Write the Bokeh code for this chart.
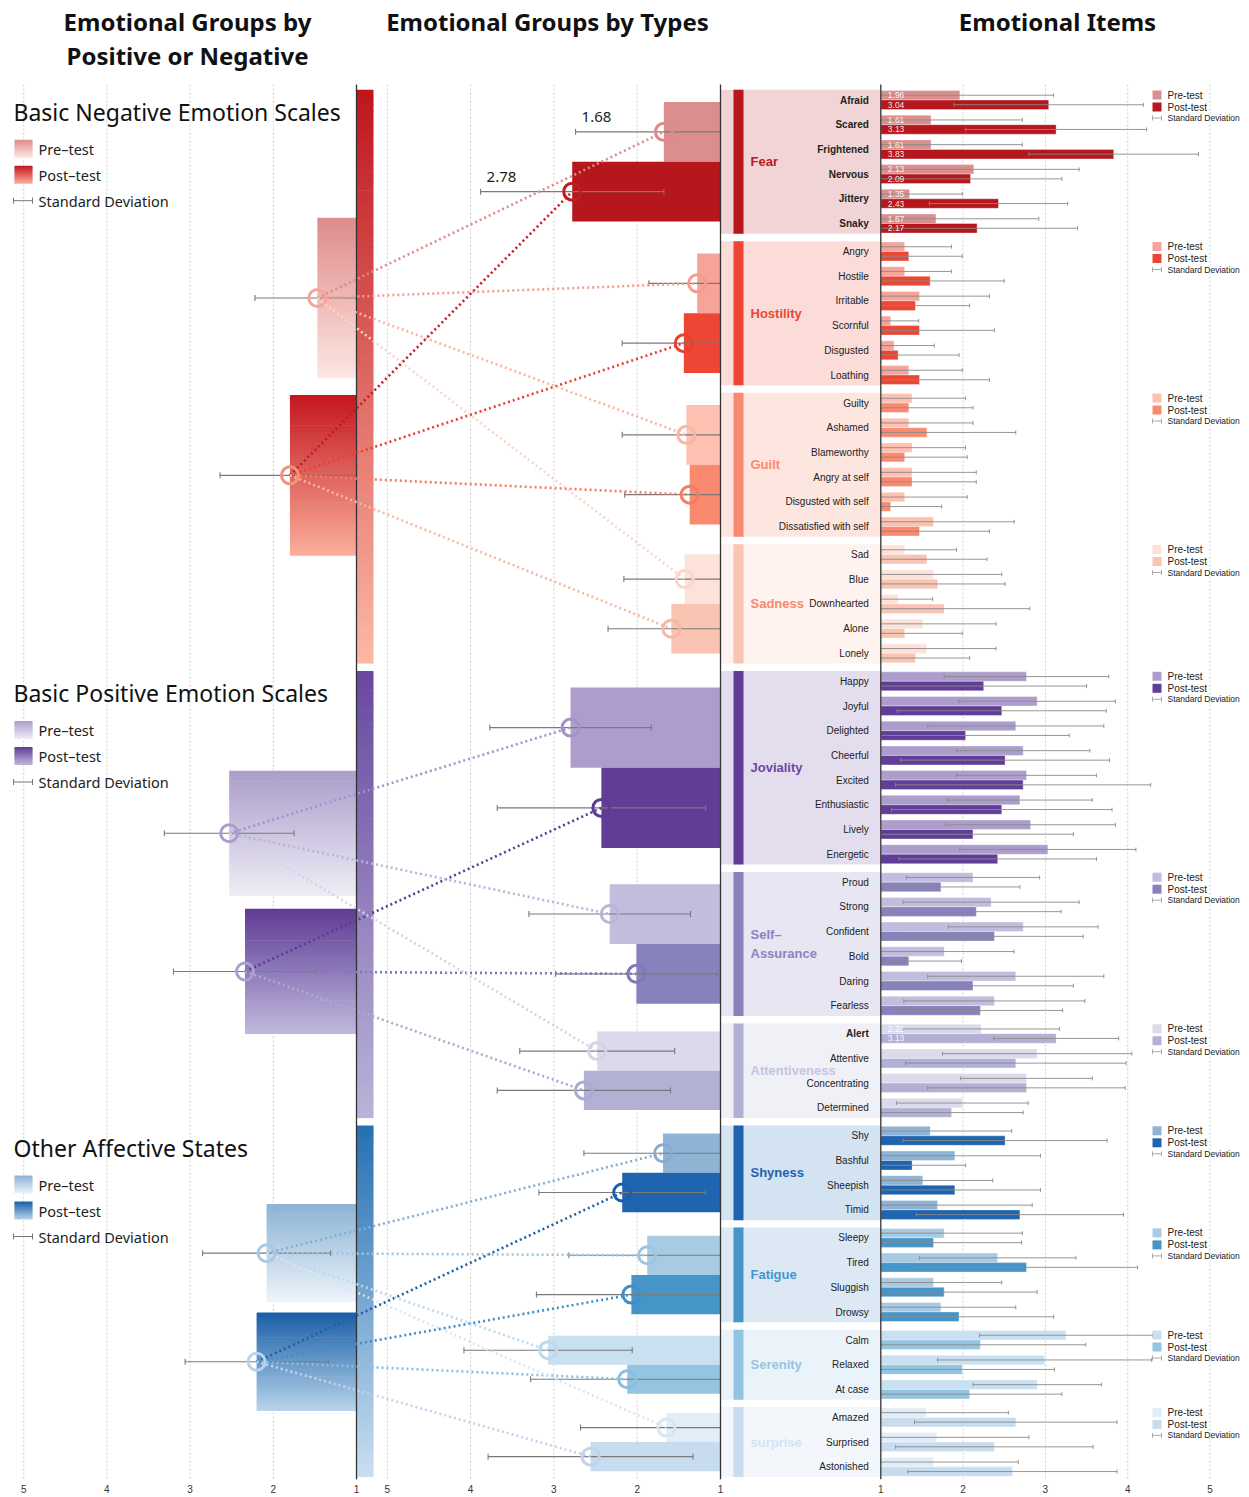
import numpy as np
from bokeh.plotting import figure
from bokeh.models import ColumnDataSource, FixedTicker, Range1d
from bokeh.core.properties import value
from bokeh.embed import file_html
from bokeh.resources import INLINE

# ======================= DATA =======================
section_names = ["Basic Negative Emotion Scales", "Basic Positive Emotion Scales", "Other Affective States"]
section_pre = [1.47, 2.53, 2.08]
section_post = [1.80, 2.34, 2.20]
section_pre_sd = [0.75, 0.78, 0.77]
section_post_sd = [0.84, 0.86, 0.86]

group_names = ["Fear", "Hostility", "Guilt", "Sadness", "Joviality", "Self–\nAssurance",
               "Attentiveness", "Shyness", "Fatigue", "Serenity", "surprise"]
group_section = [0, 0, 0, 0, 1, 1, 1, 2, 2, 2, 2]
group_pre = [1.68, 1.28, 1.41, 1.43, 2.80, 2.33, 2.48, 1.69, 1.88, 3.07, 1.65]
group_post = [2.78, 1.44, 1.37, 1.59, 2.43, 2.01, 2.64, 2.18, 2.07, 2.12, 2.56]
group_pre_sd = [1.06, 0.58, 0.77, 0.73, 0.97, 0.97, 0.93, 0.95, 0.94, 1.01, 1.03]
group_post_sd = [1.10, 0.74, 0.78, 0.76, 1.25, 0.97, 1.04, 1.00, 1.14, 1.16, 1.23]
group_value_shown = [True, False, False, False, False, False, False, False, False, False, False]

fear_items = ["Afraid", "Scared", "Frightened", "Nervous", "Jittery", "Snaky"]
fear_pre = [1.96, 1.61, 1.61, 2.13, 1.35, 1.67]
fear_post = [3.04, 3.13, 3.83, 2.09, 2.43, 2.17]
fear_pre_sd = [1.14, 1.11, 1.11, 1.28, 0.64, 1.25]
fear_post_sd = [1.15, 1.10, 1.03, 1.11, 0.84, 1.22]

hostility_items = ["Angry", "Hostile", "Irritable", "Scornful", "Disgusted", "Loathing"]
hostility_pre = [1.29, 1.29, 1.47, 1.12, 1.16, 1.34]
hostility_post = [1.34, 1.60, 1.42, 1.47, 1.21, 1.47]
hostility_pre_sd = [0.57, 0.57, 0.85, 0.34, 0.49, 0.65]
hostility_post_sd = [0.65, 0.90, 0.66, 0.91, 0.74, 0.85]

guilt_items = ["Guilty", "Ashamed", "Blameworthy", "Angry at self", "Disgusted with self", "Dissatisfied with self"]
guilt_pre = [1.38, 1.34, 1.38, 1.38, 1.29, 1.64]
guilt_post = [1.34, 1.56, 1.29, 1.38, 1.12, 1.47]
guilt_pre_sd = [0.65, 0.78, 0.65, 0.78, 0.76, 0.98]
guilt_post_sd = [0.78, 1.08, 0.76, 0.78, 0.62, 0.85]

sadness_items = ["Sad", "Blue", "Downhearted", "Alone", "Lonely"]
sadness_pre = [1.29, 1.64, 1.21, 1.51, 1.56]
sadness_post = [1.56, 1.69, 1.77, 1.29, 1.42]
sadness_pre_sd = [0.63, 0.83, 0.42, 0.89, 0.84]
sadness_post_sd = [0.73, 0.82, 1.04, 0.70, 0.66]

joviality_items = ["Happy", "Joyful", "Delighted", "Cheerful", "Excited", "Enthusiastic", "Lively", "Energetic"]
joviality_pre = [2.77, 2.90, 2.64, 2.73, 2.77, 2.69, 2.82, 3.03]
joviality_post = [2.25, 2.47, 2.03, 2.51, 2.73, 2.47, 2.12, 2.42]
joviality_pre_sd = [1.00, 0.95, 1.07, 0.81, 0.85, 0.88, 1.03, 1.07]
joviality_post_sd = [1.25, 1.27, 1.26, 1.27, 1.55, 1.34, 1.22, 1.20]

assurance_items = ["Proud", "Strong", "Confident", "Bold", "Daring", "Fearless"]
assurance_pre = [2.12, 2.34, 2.73, 1.77, 2.64, 2.38]
assurance_post = [1.73, 2.16, 2.38, 1.34, 2.12, 2.21]
assurance_pre_sd = [0.81, 1.07, 0.91, 0.85, 1.07, 1.10]
assurance_post_sd = [0.96, 1.03, 1.08, 0.64, 1.22, 1.00]

attentive_items = ["Alert", "Attentive", "Concentrating", "Determined"]
attentive_pre = [2.22, 2.90, 2.77, 1.99]
attentive_post = [3.13, 2.64, 2.77, 1.86]
attentive_pre_sd = [0.95, 1.15, 0.80, 0.80]
attentive_post_sd = [0.76, 1.34, 1.20, 0.87]

shyness_items = ["Shy", "Bashful", "Sheepish", "Timid"]
shyness_pre = [1.60, 1.90, 1.51, 1.69]
shyness_post = [2.51, 1.38, 1.90, 2.69]
shyness_pre_sd = [0.99, 1.04, 0.85, 1.15]
shyness_post_sd = [1.24, 0.65, 1.04, 1.26]

fatigue_items = ["Sleepy", "Tired", "Sluggish", "Drowsy"]
fatigue_pre = [1.77, 2.42, 1.64, 1.73]
fatigue_post = [1.64, 2.77, 1.77, 1.95]
fatigue_pre_sd = [0.95, 0.95, 0.83, 0.91]
fatigue_post_sd = [1.07, 1.35, 1.13, 1.15]

serenity_items = ["Calm", "Relaxed", "At case"]
serenity_pre = [3.25, 2.99, 2.90]
serenity_post = [2.21, 1.99, 2.08]
serenity_pre_sd = [1.05, 1.30, 0.78]
serenity_post_sd = [1.28, 1.12, 1.12]

surprise_items = ["Amazed", "Surprised", "Astonished"]
surprise_pre = [1.55, 1.68, 1.64]
surprise_post = [2.64, 2.38, 2.60]
surprise_pre_sd = [1.00, 1.12, 1.03]
surprise_post_sd = [1.23, 1.20, 1.27]

highlighted_items = fear_items + ["Alert"]
tick_values = [1, 2, 3, 4, 5]

item_lists = [fear_items, hostility_items, guilt_items, sadness_items, joviality_items, assurance_items,
              attentive_items, shyness_items, fatigue_items, serenity_items, surprise_items]
pre_lists = [fear_pre, hostility_pre, guilt_pre, sadness_pre, joviality_pre, assurance_pre,
             attentive_pre, shyness_pre, fatigue_pre, serenity_pre, surprise_pre]
post_lists = [fear_post, hostility_post, guilt_post, sadness_post, joviality_post, assurance_post,
              attentive_post, shyness_post, fatigue_post, serenity_post, surprise_post]
pre_sd_lists = [fear_pre_sd, hostility_pre_sd, guilt_pre_sd, sadness_pre_sd, joviality_pre_sd, assurance_pre_sd,
                attentive_pre_sd, shyness_pre_sd, fatigue_pre_sd, serenity_pre_sd, surprise_pre_sd]
post_sd_lists = [fear_post_sd, hostility_post_sd, guilt_post_sd, sadness_post_sd, joviality_post_sd, assurance_post_sd,
                 attentive_post_sd, shyness_post_sd, fatigue_post_sd, serenity_post_sd, surprise_post_sd]

# ======================= STYLE =======================
group_pre_colors = ["#dc8e8e", "#f6a39a", "#fdc0b1", "#fde2d9", "#ac9dcc", "#c1bddd", "#dbdaeb",
                    "#8fb3d5", "#a8cae3", "#c8e0f0", "#e3edf7"]
group_post_colors = ["#b5171d", "#ee4634", "#f98a70", "#f9c4b1", "#623d98", "#8781bc", "#b2b0d5",
                     "#1e64ae", "#4595c9", "#93c4e1", "#c8dcef"]
group_bg_colors = ["#f1d4d5", "#fbdcd8", "#fde6e0", "#fef3ef", "#e4ddee", "#e7e6f2", "#f0f0f7",
                   "#d4e3f1", "#dce9f5", "#eaf3fa", "#f3f7fc"]
group_label_colors = ["#c0181f", "#ee4634", "#f98a70", "#f7896e", "#6a48a0", "#8a84c0", "#c6c4e2",
                      "#1f64ad", "#4596cb", "#95c5e2", "#d3e3f3"]
mid_circle_pre = ["#df8a8a", "#f59c92", "#fbb5a2", "#fbd5c8", "#a393c7", "#b9b5d9", "#d4d3e8",
                  "#88acd1", "#9fc4df", "#bcd9ee", "#d8e5f3"]
mid_circle_post = ["#c21a21", "#e8402e", "#f47c62", "#f6b8a4", "#5e3a93", "#7f79b7", "#aba9d1",
                   "#1a60aa", "#3e8fc5", "#8abedd", "#c0d5eb"]
sec_pre_grad = [("#de8b8b", "#fde7e2"), ("#ab9dcb", "#efedf6"), ("#8cb2d5", "#edf4fa")]
sec_post_grad = [("#c3161e", "#fbaf9b"), ("#5f3b95", "#c0b9dd"), ("#1a5ea6", "#b7d4eb")]
sec_thin_grad = [("#bf151d", "#fcb9a6"), ("#68489f", "#bab4d9"), ("#2570b3", "#cadef0")]
sec_circle_pre = ["#f4a69c", "#a99ccb", "#a9c9e4"]
sec_circle_post = ["#f2917c", "#a8a1cf", "#b8d3eb"]

# ======================= SCALES & LAYOUT =======================
LX1, LSC = 356.0, 83.2     # left panel: value 1 at 356, reversed
MX1, MSC = 720.0, 83.3     # middle panel: value 1 at 720, reversed
RX1, RSC = 880.3, 82.3     # right panel: value 1 at 880.3


def lx(v):
    return LX1 - (v - 1.0) * LSC


def mx(v):
    return MX1 - (v - 1.0) * MSC


def rx(v):
    return RX1 + (v - 1.0) * RSC


W, H = 1249, 1497
FRAME_TOP = 84.0
Y_BOTTOM = 1479.0
ROW, GAP, Y0, PAD = 24.7, 3.3, 99.5, 10.3
NG = len(group_names)

centers = []
yy = Y0
for items in item_lists:
    cs = []
    for _ in items:
        cs.append(yy)
        yy += ROW
    centers.append(cs)
    yy += GAP
g_top = [cs[0] - PAD for cs in centers]
g_bot = [cs[-1] + PAD for cs in centers]
g_mid = [(a + b) / 2 for a, b in zip(g_top, g_bot)]
g_bh = [0.415 * (b - a) for a, b in zip(g_top, g_bot)]
s_top = [min(g_top[g] for g in range(NG) if group_section[g] == s) for s in range(3)]
s_bot = [max(g_bot[g] for g in range(NG) if group_section[g] == s) for s in range(3)]
s_h = [b - a for a, b in zip(s_top, s_bot)]
s_pre_c = [t + 0.363 * h for t, h in zip(s_top, s_h)]
s_post_c = [t + 0.672 * h for t, h in zip(s_top, s_h)]
s_bar_h = [0.28 * h for h in s_h]


def mix(c0, c1, t):
    a = [int(c0[i:i + 2], 16) for i in (1, 3, 5)]
    b = [int(c1[i:i + 2], 16) for i in (1, 3, 5)]
    return "#%02x%02x%02x" % tuple(int(round(a[k] + (b[k] - a[k]) * t)) for k in range(3))


def vsegs(xs, ys, half):
    return ColumnDataSource(dict(x=list(xs), y0=[y - half for y in ys], y1=[y + half for y in ys]))


# ======================= FIGURE =======================
p = figure(width=W, height=H, x_range=Range1d(0, W), y_range=Range1d(Y_BOTTOM, 0),
           output_backend="svg", toolbar_location=None, y_axis_location=None,
           min_border_left=0, min_border_right=0, min_border_top=0, min_border_bottom=int(H - Y_BOTTOM))
p.outline_line_color = None
p.grid.visible = False
p.background_fill_color = "white"
p.border_fill_color = "white"

# axis ticks for three panels
tick_pos, overrides = [], {}
for fn in (lx, mx, rx):
    for v in tick_values:
        pos = round(float(fn(v)), 2)
        if pos == int(pos):
            pos = int(pos)
        tick_pos.append(pos)
        overrides[pos] = str(v)
p.xaxis.ticker = FixedTicker(ticks=tick_pos)
p.xaxis.major_label_overrides = overrides
p.xaxis.axis_line_color = None
p.xaxis.major_tick_line_color = None
p.xaxis.minor_tick_line_color = None
p.xaxis.major_tick_out = 0
p.xaxis.major_tick_in = 0
p.xaxis.major_label_standoff = 5
p.xaxis.major_label_text_font = "Liberation Sans"
p.xaxis.major_label_text_font_size = "10px"
p.xaxis.major_label_text_color = "#333333"

# dotted grid lines
gx = [float(fn(v)) for fn in (lx, mx, rx) for v in tick_values if v != 1]
p.segment(x0=gx, y0=[FRAME_TOP] * len(gx), x1=gx, y1=[Y_BOTTOM] * len(gx),
          line_color="#cfcfcf", line_width=1, line_dash="2 2")

# right-panel group backgrounds + thin group bars
p.quad(left=[MX1] * NG, right=[RX1] * NG, top=g_top, bottom=g_bot, fill_color=group_bg_colors, line_color=None)
p.quad(left=[MX1 + 13] * NG, right=[MX1 + 23] * NG, top=g_top, bottom=g_bot,
       fill_color=group_post_colors, line_color=None)

# middle panel bars
p.quad(left=[mx(v) for v in group_pre], right=[MX1] * NG,
       top=[m - h for m, h in zip(g_mid, g_bh)], bottom=g_mid, fill_color=group_pre_colors, line_color=None)
p.quad(left=[mx(v) for v in group_post], right=[MX1] * NG,
       top=g_mid, bottom=[m + h for m, h in zip(g_mid, g_bh)], fill_color=group_post_colors, line_color=None)

# gradient pieces (left panel bars, thin bars, legend squares)
grad = dict(left=[], right=[], top=[], bottom=[], color=[])


def add_gradient(left, right, top, bottom, c0, c1, n=48):
    h = (bottom - top) / n
    for i in range(n):
        grad["left"].append(left)
        grad["right"].append(right)
        grad["top"].append(top + i * h)
        grad["bottom"].append(min(bottom, top + (i + 1) * h + 0.7))
        grad["color"].append(mix(c0, c1, (i + 0.5) / n))


for s in range(3):
    add_gradient(lx(section_pre[s]), LX1, s_pre_c[s] - s_bar_h[s] / 2, s_pre_c[s] + s_bar_h[s] / 2, *sec_pre_grad[s])
    add_gradient(lx(section_post[s]), LX1, s_post_c[s] - s_bar_h[s] / 2, s_post_c[s] + s_bar_h[s] / 2, *sec_post_grad[s])
    add_gradient(LX1, LX1 + 17, s_top[s], s_bot[s], *sec_thin_grad[s], n=80)
    ly = s_top[s] + 59
    add_gradient(14, 32, ly - 9, ly + 9, *sec_pre_grad[s], n=10)
    add_gradient(14, 32, ly + 17, ly + 35, *sec_post_grad[s], n=10)
p.quad(left="left", right="right", top="top", bottom="bottom", fill_color="color", line_color=None,
       source=ColumnDataSource(grad))

# right panel bars
rb = dict(left=[], right=[], top=[], bottom=[], color=[])
err_r = dict(x0=[], x1=[], y=[])
cap_rx, cap_ry = [], []
vals = dict(x=[], y=[], text=[])
for g in range(NG):
    for i, c in enumerate(centers[g]):
        for v, sd, yc, col, top, bot in ((pre_lists[g][i], pre_sd_lists[g][i], c - 4.75, group_pre_colors[g], c - 9.5, c),
                                         (post_lists[g][i], post_sd_lists[g][i], c + 4.75, group_post_colors[g], c, c + 9.5)):
            rb["left"].append(RX1)
            rb["right"].append(rx(v))
            rb["top"].append(top)
            rb["bottom"].append(bot)
            rb["color"].append(col)
            lo = max(v - sd, 1.0)
            err_r["x0"].append(rx(lo))
            err_r["x1"].append(rx(v + sd))
            err_r["y"].append(yc)
            cap_rx.append(rx(v + sd))
            cap_ry.append(yc)
            if v - sd >= 1.0:
                cap_rx.append(rx(v - sd))
                cap_ry.append(yc)
            if item_lists[g][i] in highlighted_items:
                vals["x"].append(RX1 + 7)
                vals["y"].append(yc)
                vals["text"].append("%.2f" % v)
p.quad(left="left", right="right", top="top", bottom="bottom", fill_color="color",
       line_color="white", line_alpha=0.35, line_width=1, source=ColumnDataSource(rb))
p.segment(x0="x0", y0="y", x1="x1", y1="y", line_color="#8a8a8a", line_width=0.9, source=ColumnDataSource(err_r))
p.segment(x0="x", y0="y0", x1="x", y1="y1", line_color="#8a8a8a", line_width=0.9,
          source=vsegs(cap_rx, cap_ry, 2))
p.text(x="x", y="y", text="text", text_color="white", text_alpha=0.9, text_font=value("Liberation Sans"),
       text_font_size="8.5px", text_baseline="middle", text_align="left", source=ColumnDataSource(vals))

# middle + left error bars
err = dict(x0=[], x1=[], y=[])
cap_x, cap_y = [], []


def add_err(fn, v, sd, y):
    lo = max(v - sd, 1.0)
    err["x0"].append(fn(v + sd))
    err["x1"].append(fn(lo))
    err["y"].append(y)
    cap_x.append(fn(v + sd))
    cap_y.append(y)
    if v - sd >= 1.0:
        cap_x.append(fn(v - sd))
        cap_y.append(y)


for g in range(NG):
    add_err(mx, group_pre[g], group_pre_sd[g], g_mid[g] - g_bh[g] / 2)
    add_err(mx, group_post[g], group_post_sd[g], g_mid[g] + g_bh[g] / 2)
for s in range(3):
    add_err(lx, section_pre[s], section_pre_sd[s], s_pre_c[s])
    add_err(lx, section_post[s], section_post_sd[s], s_post_c[s])
p.segment(x0="x0", y0="y", x1="x1", y1="y", line_color="#7a7a7a", line_width=1.1, source=ColumnDataSource(err))
p.segment(x0="x", y0="y0", x1="x", y1="y1", line_color="#7a7a7a", line_width=1.1, source=vsegs(cap_x, cap_y, 3))

# value-1 baselines
bx = [LX1, MX1, RX1]
p.segment(x0=bx, y0=[FRAME_TOP] * 3, x1=bx, y1=[Y_BOTTOM] * 3, line_color="#333333", line_width=1.3)

# dotted connectors
con = dict(x0=[], y0=[], x1=[], y1=[], color=[])
for g in range(NG):
    s = group_section[g]
    con["x0"].append(lx(section_pre[s]))
    con["y0"].append(s_pre_c[s])
    con["x1"].append(mx(group_pre[g]))
    con["y1"].append(g_mid[g] - g_bh[g] / 2)
    con["color"].append(mid_circle_pre[g])
    con["x0"].append(lx(section_post[s]))
    con["y0"].append(s_post_c[s])
    con["x1"].append(mx(group_post[g]))
    con["y1"].append(g_mid[g] + g_bh[g] / 2)
    con["color"].append(mid_circle_post[g])
p.segment(x0="x0", y0="y0", x1="x1", y1="y1", line_color="color", line_width=2.6, line_dash="2 3",
          source=ColumnDataSource(con))

# circles
cir = dict(x=[], y=[], color=[])
for g in range(NG):
    cir["x"] += [mx(group_pre[g]), mx(group_post[g])]
    cir["y"] += [g_mid[g] - g_bh[g] / 2, g_mid[g] + g_bh[g] / 2]
    cir["color"] += [mid_circle_pre[g], mid_circle_post[g]]
for s in range(3):
    cir["x"] += [lx(section_pre[s]), lx(section_post[s])]
    cir["y"] += [s_pre_c[s], s_post_c[s]]
    cir["color"] += [sec_circle_pre[s], sec_circle_post[s]]
p.scatter(x="x", y="y", size=17, line_color="color", line_width=3, fill_alpha=0, source=ColumnDataSource(cir))

# middle value labels (Fear)
mv = dict(x=[], y=[], text=[])
for g in range(NG):
    if group_value_shown[g]:
        for v, sd, yc in ((group_pre[g], group_pre_sd[g], g_mid[g] - g_bh[g] / 2),
                          (group_post[g], group_post_sd[g], g_mid[g] + g_bh[g] / 2)):
            mv["x"].append(mx(v + sd) + 6)
            mv["y"].append(yc - 15)
            mv["text"].append("%.2f" % v)
p.text(x="x", y="y", text="text", text_color="#222222", text_font=value("Noto Sans"), text_font_size="15px",
       text_baseline="middle", text_align="left", source=ColumnDataSource(mv))

# item labels
il = dict(x=[], y=[], text=[], style=[])
for g in range(NG):
    for i, c in enumerate(centers[g]):
        il["x"].append(RX1 - 12)
        il["y"].append(c)
        il["text"].append(item_lists[g][i])
        il["style"].append("bold" if item_lists[g][i] in highlighted_items else "normal")
p.text(x="x", y="y", text="text", text_font_style="style", text_color="#222222",
       text_font=value("Liberation Sans"), text_font_size="10px", text_baseline="middle", text_align="right",
       source=ColumnDataSource(il))

# group labels
p.text(x=[MX1 + 30] * NG, y=g_mid, text=group_names, text_color=group_label_colors, text_font_style="bold",
       text_font=value("Liberation Sans"), text_font_size="13px", text_baseline="middle", text_align="left",
       text_line_height=1.25)

# right legends
LEGX = 1152
rl_sq = dict(left=[], right=[], top=[], bottom=[], color=[])
rl_tx = dict(x=[], y=[], text=[])
rl_sd = dict(x=[], y=[], text=[])
rl_ln = dict(x0=[], x1=[], y=[])
for g in range(NG):
    c0 = centers[g][0]
    for dy, col, lab in ((-5, group_pre_colors[g], "Pre-test"), (7, group_post_colors[g], "Post-test")):
        rl_sq["left"].append(LEGX)
        rl_sq["right"].append(LEGX + 9)
        rl_sq["top"].append(c0 + dy - 4.5)
        rl_sq["bottom"].append(c0 + dy + 4.5)
        rl_sq["color"].append(col)
        rl_tx["x"].append(LEGX + 15)
        rl_tx["y"].append(c0 + dy)
        rl_tx["text"].append(lab)
    rl_sd["x"].append(LEGX + 15)
    rl_sd["y"].append(c0 + 18)
    rl_sd["text"].append("Standard Deviation")
    rl_ln["x0"].append(LEGX)
    rl_ln["x1"].append(LEGX + 9)
    rl_ln["y"].append(c0 + 18)
p.quad(left="left", right="right", top="top", bottom="bottom", fill_color="color", line_color=None,
       source=ColumnDataSource(rl_sq))
p.text(x="x", y="y", text="text", text_color="#222222", text_font=value("Liberation Sans"), text_font_size="10px",
       text_baseline="middle", source=ColumnDataSource(rl_tx))
p.text(x="x", y="y", text="text", text_color="#222222", text_font=value("Liberation Sans"), text_font_size="8.5px",
       text_baseline="middle", source=ColumnDataSource(rl_sd))
p.segment(x0="x0", y0="y", x1="x1", y1="y", line_color="#aaaaaa", line_width=1, source=ColumnDataSource(rl_ln))
p.segment(x0="x", y0="y0", x1="x", y1="y1", line_color="#aaaaaa", line_width=1,
          source=vsegs(rl_ln["x0"] + rl_ln["x1"], rl_ln["y"] * 2, 2.5))

# left section titles + legends
p.text(x=[13] * 3, y=[t + 22 for t in s_top], text=section_names, text_color="#111111",
       text_font=value("Noto Sans"), text_font_size="23px", text_baseline="middle")
lt = dict(x=[], y=[], text=[])
for s in range(3):
    for dy, lab in ((59, "Pre–test"), (85, "Post–test"), (111, "Standard Deviation")):
        lt["x"].append(38)
        lt["y"].append(s_top[s] + dy)
        lt["text"].append(lab)
p.text(x="x", y="y", text="text", text_color="#222222", text_font=value("Noto Sans"), text_font_size="14.5px",
       text_baseline="middle", source=ColumnDataSource(lt))
sdy = [t + 111 for t in s_top]
p.segment(x0=[13] * 3, y0=sdy, x1=[32] * 3, y1=sdy, line_color="#777777", line_width=1)
p.segment(x0="x", y0="y0", x1="x", y1="y1", line_color="#777777", line_width=1,
          source=vsegs([13] * 3 + [32] * 3, sdy * 2, 3))

# column titles
p.text(x=[187, 187, 547, 1057], y=[21, 55, 21, 21],
       text=["Emotional Groups by", "Positive or Negative", "Emotional Groups by Types", "Emotional Items"],
       text_color="#111111", text_font=value("Noto Sans"), text_font_size="24px", text_font_style="bold",
       text_align="center", text_baseline="middle")

open("out.html", "w").write(file_html(p, INLINE))
